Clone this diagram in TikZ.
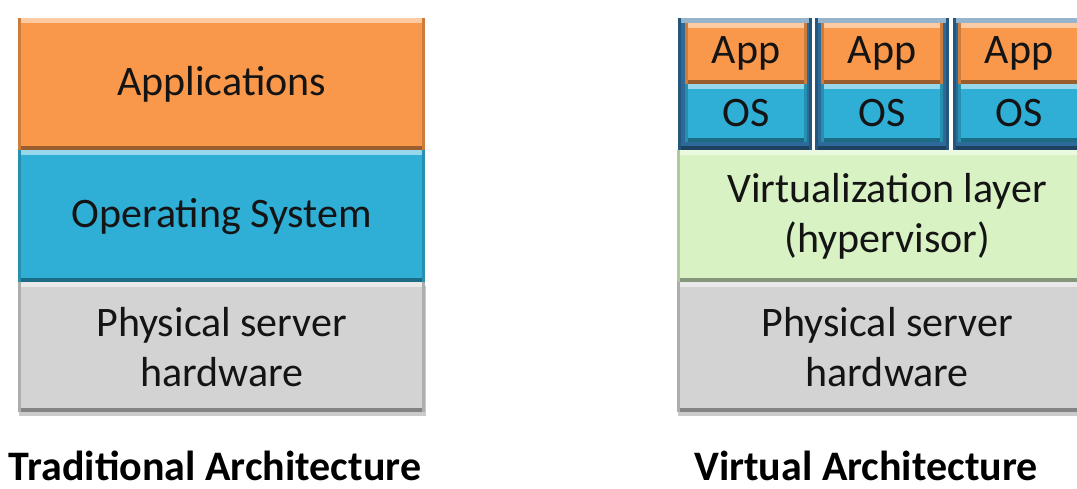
\documentclass[tikz,border=0pt]{standalone}
\usepackage{fontspec}
\setmainfont{Carlito}
\usetikzlibrary{shadows}
\definecolor{orng}{HTML}{F9974A}
\definecolor{aqua}{HTML}{2FAFD6}
\definecolor{vmblue}{HTML}{2D6A99}
\definecolor{lgreen}{HTML}{D8F2C4}
\definecolor{lgrey}{HTML}{D3D3D3}
\definecolor{txt}{HTML}{141414}
\tikzset{
  bevel/.style={fill=#1, draw=none, inner sep=0pt, anchor=north west, text=txt,
    font=\fontsize{42}{50}\selectfont, align=center,
    path picture={
      \fill[#1!50!white] (path picture bounding box.north west) rectangle ([yshift=-5pt]path picture bounding box.north east);
      \fill[#1!62!black] ([yshift=4pt]path picture bounding box.south west) rectangle (path picture bounding box.south east);
      \fill[#1!82!black] (path picture bounding box.north west) rectangle ([xshift=3pt]path picture bounding box.south west);
      \fill[#1!82!black] ([xshift=-3pt]path picture bounding box.north east) rectangle (path picture bounding box.south east);
    }},
  shadowed/.style={drop shadow={shadow xshift=1pt, shadow yshift=-4pt, opacity=0.35, fill=black!60}},
  caption/.style={font=\fontsize{42}{48}\selectfont\bfseries, text=black, inner sep=0pt}
}
\begin{document}
\begin{tikzpicture}[x=1pt,y=-1pt]
\useasboundingbox (0,0) rectangle (1077,488);
\clip (0,0) rectangle (1077,488);
% Traditional architecture
\node[bevel=lgrey, shadowed, minimum width=407pt, minimum height=130pt] (hw1) at (18,282) {Physical server\\hardware};
\node[bevel=aqua, minimum width=407pt, minimum height=132pt] (os) at (18,150) {Operating System};
\node[bevel=orng, minimum width=407pt, minimum height=132pt] (apps) at (18,18) {Applications};
\node[caption] (cap1) at (215,466) {Traditional Architecture};
% Virtual architecture
\node[bevel=lgrey, shadowed, minimum width=420pt, minimum height=130pt] (hw2) at (677,282) {Physical server\\hardware};
\node[bevel=lgreen, minimum width=420pt, minimum height=132pt] (virt) at (677,150) {Virtualization layer\\(hypervisor)};
\node[bevel=vmblue, minimum width=134pt, minimum height=132pt] (vm1) at (678,18) {};
\node[bevel=vmblue, minimum width=134pt, minimum height=132pt] (vm2) at (815,18) {};
\node[bevel=vmblue, minimum width=140pt, minimum height=132pt] (vm3) at (953,18) {};
\node[bevel=orng, minimum width=122pt, minimum height=61pt] (app1) at (685,23) {App};
\node[bevel=aqua, minimum width=122pt, minimum height=58pt] (os1) at (685,84) {OS};
\node[bevel=orng, minimum width=122pt, minimum height=61pt] (app2) at (821,23) {App};
\node[bevel=aqua, minimum width=122pt, minimum height=58pt] (os2) at (821,84) {OS};
\node[bevel=orng, minimum width=122pt, minimum height=61pt] (app3) at (958,23) {App};
\node[bevel=aqua, minimum width=122pt, minimum height=58pt] (os3) at (958,84) {OS};
\node[caption] (cap2) at (866,466) {Virtual Architecture};
\end{tikzpicture}
\end{document}
